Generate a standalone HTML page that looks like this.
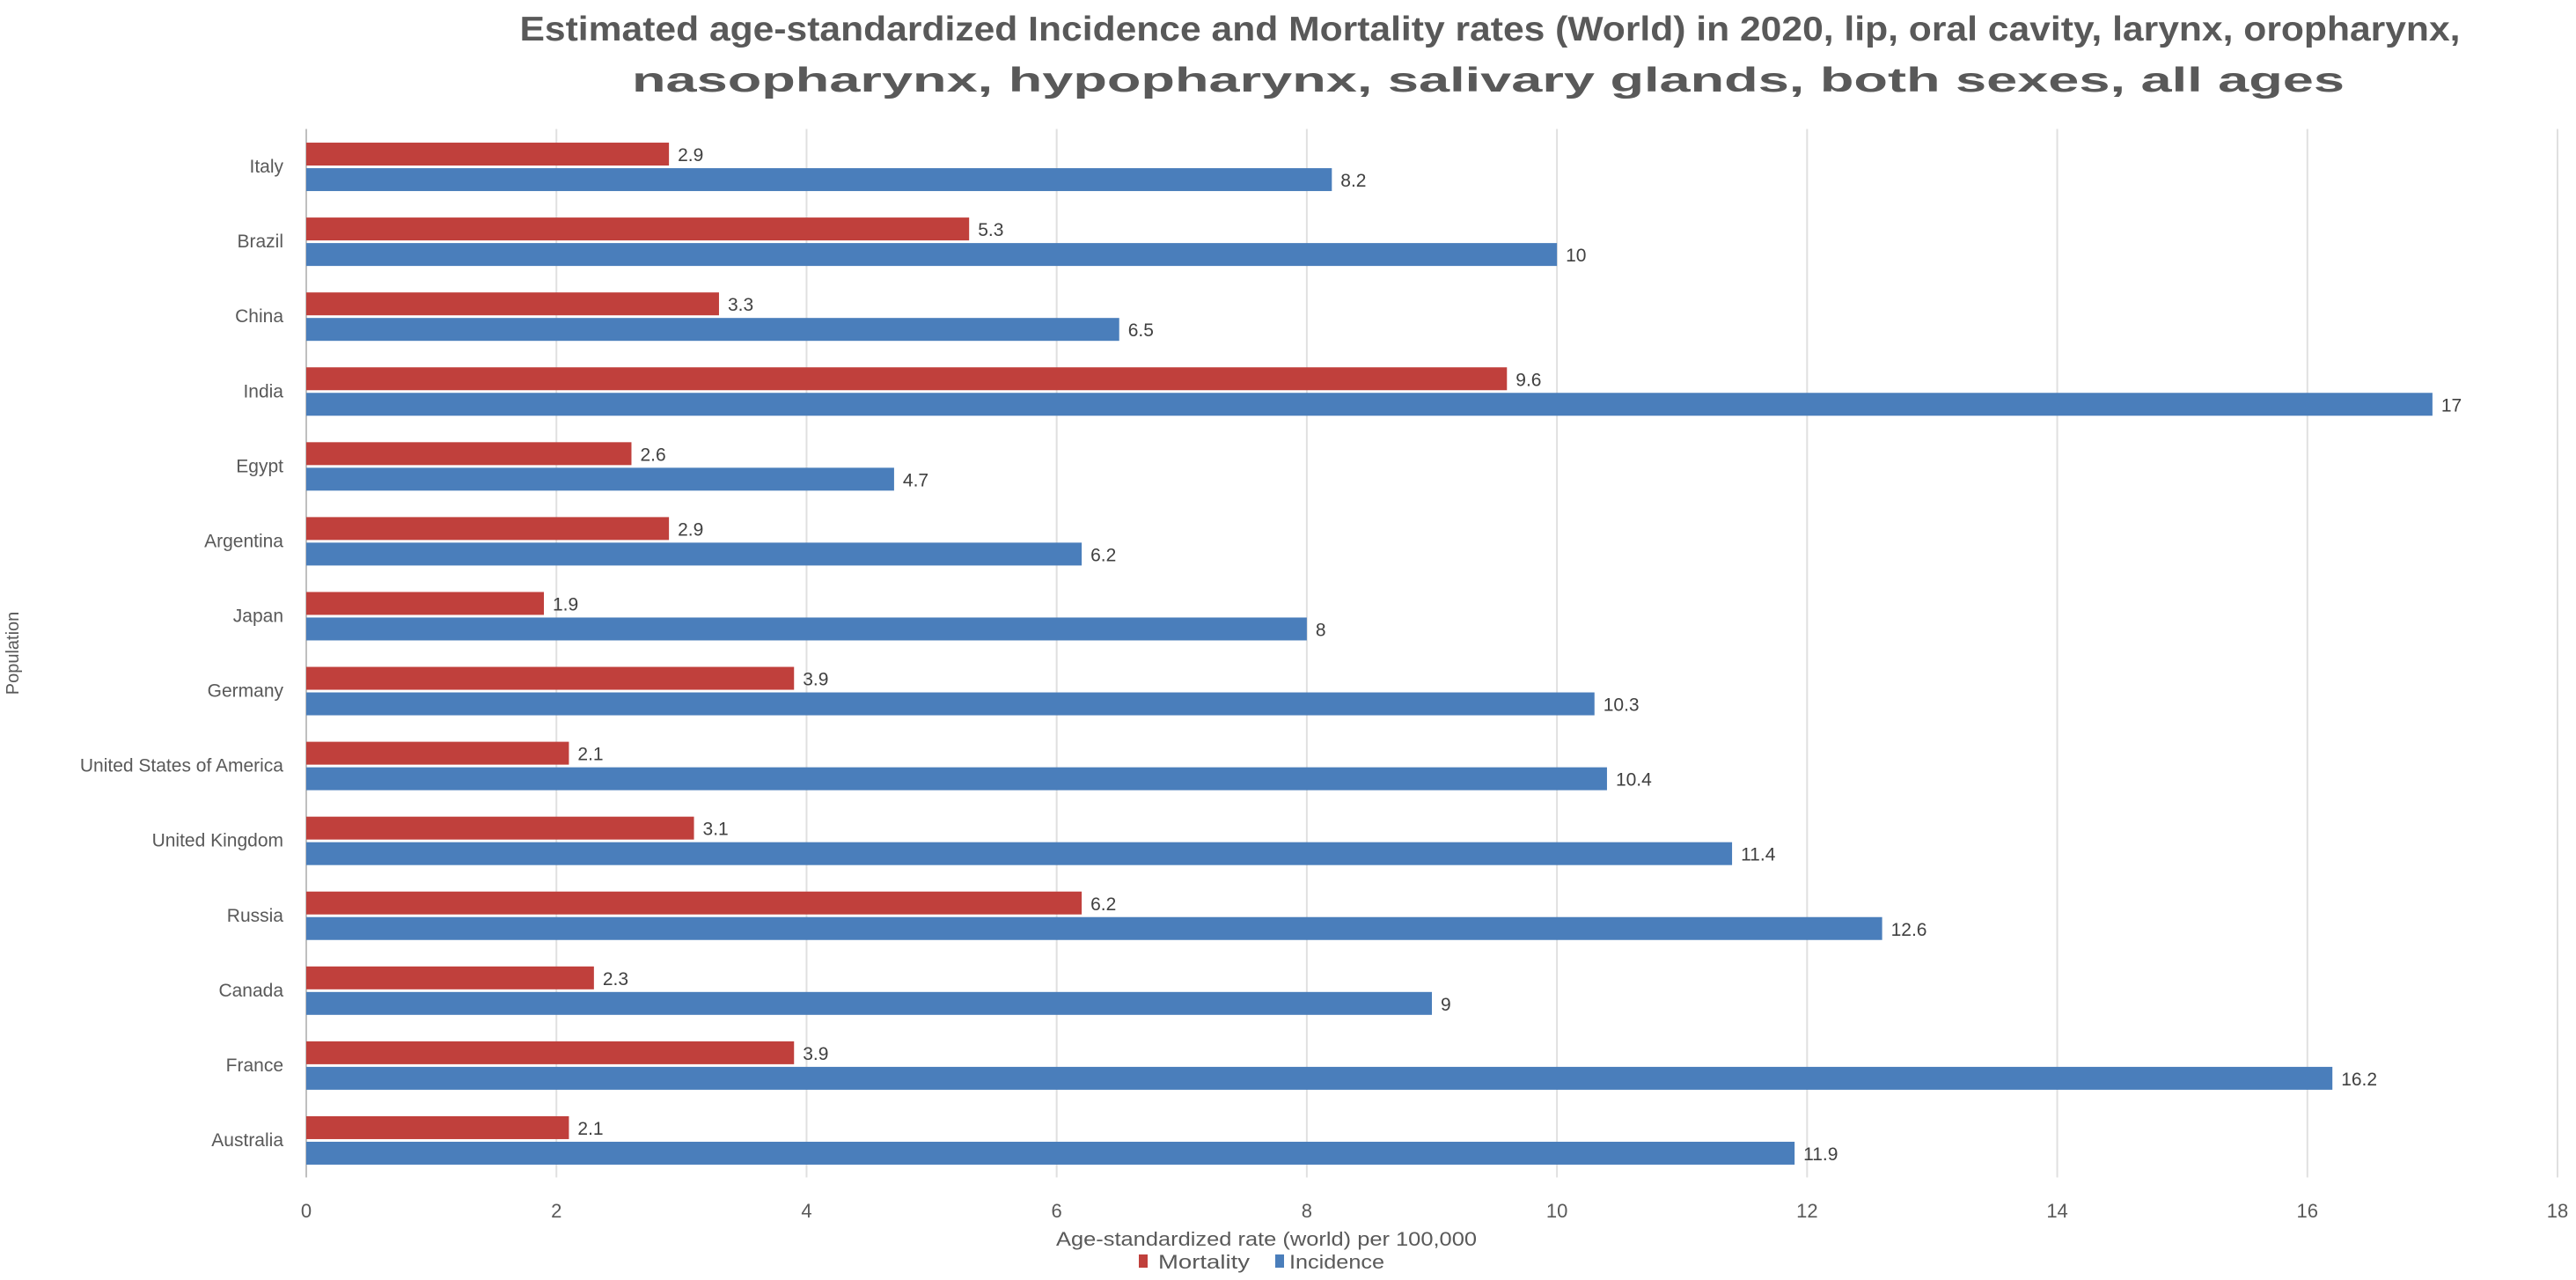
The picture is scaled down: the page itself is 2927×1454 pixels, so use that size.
<!DOCTYPE html>
<html><head><meta charset="utf-8"><style>
html,body{margin:0;padding:0;background:#fff;}
svg{display:block;font-family:"Liberation Sans",sans-serif;}
</style></head><body>
<svg id="chart" width="2927" height="1454" viewBox="0 0 2927 1454">
<text x="1693" y="46" font-size="39" font-weight="bold" fill="#595959" text-anchor="middle" textLength="2205" lengthAdjust="spacingAndGlyphs">Estimated age-standardized Incidence and Mortality rates (World) in 2020, lip, oral cavity, larynx, oropharynx,</text>
<text x="1691" y="104" font-size="39" font-weight="bold" fill="#595959" text-anchor="middle" textLength="1946" lengthAdjust="spacingAndGlyphs">nasopharynx, hypopharynx, salivary glands, both sexes, all ages</text>
<g id="grid"></g>
<g id="bars"></g>
<g id="labels"></g>
<g id="xticks"></g>
<text x="1439" y="1415" font-size="22" fill="#595959" text-anchor="middle" textLength="478" lengthAdjust="spacingAndGlyphs">Age-standardized rate (world) per 100,000</text>
<text transform="translate(21,742) rotate(-90)" font-size="20" fill="#595959" text-anchor="middle">Population</text>
<g>
<g><rect x="1294" y="1425" width="10" height="15" fill="#c0403c"/><text x="1316" y="1441" font-size="22" fill="#595959" textLength="104" lengthAdjust="spacingAndGlyphs">Mortality</text></g>
<g><rect x="1449" y="1425" width="10" height="15" fill="#4a7ebb"/><text x="1465" y="1441" font-size="22" fill="#595959" textLength="108" lengthAdjust="spacingAndGlyphs">Incidence</text></g>
</g>
</svg>
<script>
const categories = ["Italy","Brazil","China","India","Egypt","Argentina","Japan","Germany","United States of America","United Kingdom","Russia","Canada","France","Australia"];
const mortality = [2.9,5.3,3.3,9.6,2.6,2.9,1.9,3.9,2.1,3.1,6.2,2.3,3.9,2.1];
const incidence = [8.2,10,6.5,17,4.7,6.2,8,10.3,10.4,11.4,12.6,9,16.2,11.9];
const xTicks = [0,2,4,6,8,10,12,14,16,18];

const NS = "http://www.w3.org/2000/svg";
const X0 = 348, X1 = 2906, XMAX = 18, TOP = 146.5, BOT = 1337.5;
const band = (BOT - TOP) / categories.length;
const xs = v => X0 + v / XMAX * (X1 - X0);
const ys = i => TOP + band * (i + 0.5);
function mk(tag, attrs, parent, txt) {
  const e = document.createElementNS(NS, tag);
  for (const k in attrs) e.setAttribute(k, attrs[k]);
  if (txt !== undefined) e.textContent = txt;
  parent.appendChild(e);
  return e;
}
const grid = document.getElementById('grid');
const bars = document.getElementById('bars');
const labels = document.getElementById('labels');
const xt = document.getElementById('xticks');
xTicks.forEach(t => {
  const l = mk('line', {x1: xs(t), x2: xs(t), y1: TOP, y2: BOT, stroke: t === 0 ? '#bfbfbf' : '#e0e0e0', 'stroke-width': 2}, grid);
  
  
  const tx = mk('text', {x: xs(t), y: 1383, 'font-size': 22, fill: '#595959', 'text-anchor': 'middle'}, xt, String(t));
  
  
});
const BH = 26;
categories.forEach((c, i) => {
  const yc = ys(i);
  const lab = mk('text', {x: 322, y: yc + 7, 'font-size': 21, fill: '#595959', 'text-anchor': 'end'}, labels, c);
  
  
  const rm = mk('rect', {x: X0, y: yc - BH - 1, width: xs(mortality[i]) - X0, height: BH, fill: '#c0403c'}, bars);
  
  
  const vm = mk('text', {x: xs(mortality[i]) + 10, y: yc - 6, 'font-size': 21, fill: '#404040'}, bars, String(mortality[i]));
  
  
  const ri = mk('rect', {x: X0, y: yc + 2, width: xs(incidence[i]) - X0, height: BH, fill: '#4a7ebb'}, bars);
  
  
  const vi = mk('text', {x: xs(incidence[i]) + 10, y: yc + 23, 'font-size': 21, fill: '#404040'}, bars, String(incidence[i]));
  
  
});
</script>
</body></html>
